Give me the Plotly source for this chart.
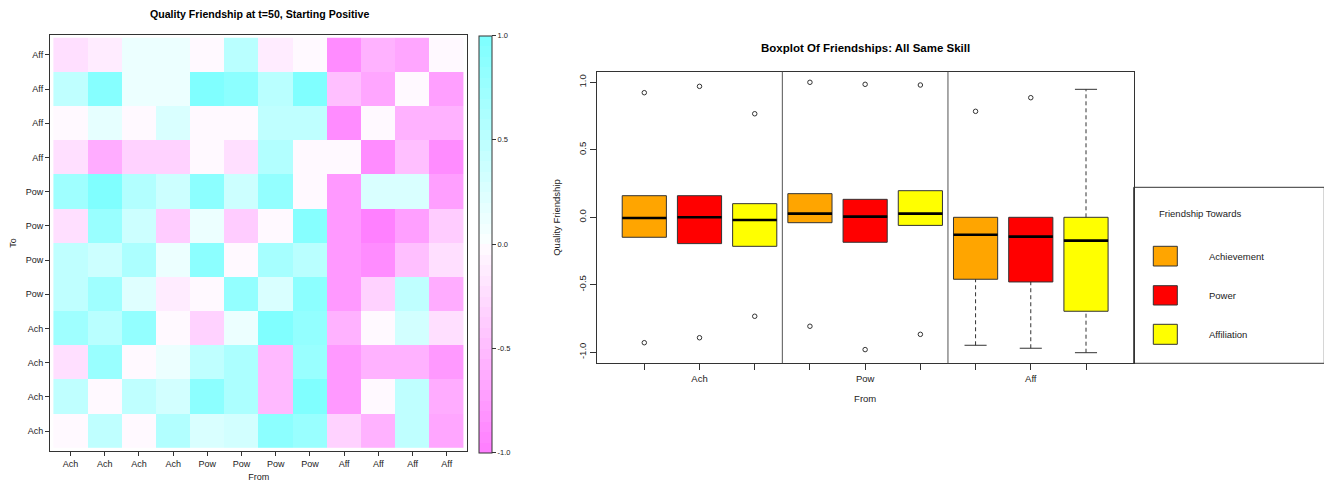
import colorsys
import plotly.graph_objects as go

# ---------------- data ----------------
heat_labels = ["Ach", "Ach", "Ach", "Ach", "Pow", "Pow", "Pow", "Pow", "Aff", "Aff", "Aff", "Aff"]
# rows listed from the top of the picture (To = Aff ... Ach), columns = From
heat_rows_top_down = [
    [-0.25, -0.13, 0.12, 0.12, -0.02, 0.50, -0.12, -0.02, -0.87, -0.57, -0.68, -0.02],
    [0.47, 0.93, 0.12, 0.12, 0.98, 0.87, 0.50, 0.98, -0.50, -0.68, -0.02, -0.72],
    [-0.02, 0.18, -0.02, 0.27, -0.02, -0.02, 0.47, 0.47, -0.87, -0.02, -0.60, -0.60],
    [-0.25, -0.62, -0.35, -0.35, -0.02, -0.25, 0.60, -0.02, -0.02, -0.90, -0.50, -0.90],
    [0.72, 0.98, 0.60, 0.37, 0.87, 0.37, 0.80, -0.02, -0.80, 0.25, 0.25, -0.72],
    [-0.25, 0.78, 0.37, -0.37, 0.12, -0.37, -0.02, 0.90, -0.80, -0.98, -0.72, -0.37],
    [0.47, 0.37, 0.62, 0.12, 0.87, -0.02, 0.68, 0.50, -0.78, -0.90, -0.50, -0.22],
    [0.47, 0.72, 0.22, -0.12, -0.02, 0.80, 0.25, 0.87, -0.80, -0.35, 0.47, -0.65],
    [0.72, 0.50, 0.80, -0.02, -0.35, 0.12, 0.98, 0.80, -0.57, -0.02, 0.35, -0.22],
    [-0.25, 0.75, -0.02, 0.12, 0.47, 0.62, -0.53, 0.75, -0.80, -0.60, -0.60, -0.80],
    [0.47, -0.02, 0.47, 0.35, 0.87, 0.62, -0.53, 0.98, -0.80, -0.02, 0.47, -0.65],
    [-0.02, 0.47, -0.02, 0.55, 0.25, 0.35, 0.87, 0.75, -0.35, -0.57, 0.47, -0.68],
]
cbar_ticks = [-1.0, -0.5, 0.0, 0.5, 1.0]
cbar_ticktext = ["-1.0", "-0.5", "0.0", "0.5", "1.0"]

box_groups = ["Ach", "Pow", "Aff"]
box_towards = ["Achievement", "Power", "Affiliation"]
box_colors = ["#FFA500", "#FF0000", "#FFFF00"]
# order: (Ach: Ach,Pow,Aff), (Pow: ...), (Aff: ...)
box_q1 = [-0.148, -0.195, -0.215, -0.040, -0.185, -0.060, -0.459, -0.479, -0.696]
box_median = [-0.005, 0.000, -0.020, 0.027, 0.005, 0.027, -0.129, -0.143, -0.173]
box_q3 = [0.160, 0.160, 0.101, 0.175, 0.133, 0.197, 0.000, 0.000, 0.000]
box_lowwhisk = [-0.148, -0.195, -0.215, -0.040, -0.185, -0.060, -0.948, -0.970, -1.003]
box_highwhisk = [0.160, 0.160, 0.101, 0.175, 0.133, 0.197, 0.000, 0.000, 0.948]
box_outliers = [
    [0.923, -0.929], [0.970, -0.892], [0.767, -0.733],
    [1.000, -0.807], [0.985, -0.980], [0.980, -0.867],
    [0.785], [0.886], [],
]
box_yticks = [-1.0, -0.5, 0.0, 0.5, 1.0]
box_yticktext = ["-1.0", "-0.5", "0.0", "0.5", "1.0"]

# ---------------- helpers ----------------
# the page body has an 8px margin, so the figure is drawn 8px in from the window corner
OFF = 8
W, H = 1332 - OFF, 483 - OFF


def px(x):
    return (x - OFF) / W


def py(y):
    return 1 - (y - OFF) / H


# reversed cm.colors(40) step colorscale
n = 40
k = n // 2
mag_s = [0.5 * (i + 1) / k for i in range(k)][::-1]      # 0.5 ... 0.025
cyan_s = [0.5 * (i + 1) / k for i in range(k)]           # 0.025 ... 0.5
cols = []
for s in mag_s:
    r, g, b = colorsys.hsv_to_rgb(10 / 12, s, 1)
    cols.append("rgb(%d,%d,%d)" % (round(r * 255), round(g * 255), round(b * 255)))
for s in cyan_s:
    r, g, b = colorsys.hsv_to_rgb(6 / 12, s, 1)
    cols.append("rgb(%d,%d,%d)" % (round(r * 255), round(g * 255), round(b * 255)))
colorscale = []
for i, c in enumerate(cols):
    colorscale.append([i / n, c])
    colorscale.append([(i + 1) / n, c])

FONT = "Liberation Sans, Arial, sans-serif"
TXT = "#222222"

fig = go.Figure()

# ---------------- heatmap ----------------
z = heat_rows_top_down[::-1]
pos = list(range(1, 13))
fig.add_trace(go.Heatmap(
    z=z, x=pos, y=pos, zmin=-1, zmax=1, colorscale=colorscale,
    xaxis="x", yaxis="y", showscale=True,
    colorbar=dict(
        x=px(479.3), xanchor="left", y=py(244), yanchor="middle",
        len=(452.3 - 35.7) / H, lenmode="fraction", thickness=13, thicknessmode="pixels",
        outlinewidth=1, outlinecolor="#333333", xpad=0, ypad=0,
        tickmode="array", tickvals=cbar_ticks, ticktext=cbar_ticktext,
        ticks="outside", ticklen=4, tickcolor="#333333",
        tickfont=dict(size=7.5, family=FONT, color=TXT),
    ),
    hoverongaps=False,
))

# ---------------- boxplot ----------------
for i in range(9):
    p = i + 1
    c = box_colors[i % 3]
    fig.add_trace(go.Box(
        x=[p], q1=[box_q1[i]], median=[box_median[i]], q3=[box_q3[i]],
        lowerfence=[box_q1[i]], upperfence=[box_q3[i]],
        width=0.8, fillcolor=c, line=dict(color="#333333", width=1),
        whiskerwidth=0, boxpoints=False, xaxis="x2", yaxis="y2", showlegend=False,
    ))
    # median (thick)
    fig.add_trace(go.Scatter(
        x=[p - 0.4, p + 0.4], y=[box_median[i], box_median[i]], mode="lines",
        line=dict(color="black", width=2.6), xaxis="x2", yaxis="y2",
        showlegend=False, hoverinfo="skip",
    ))
    # whiskers
    wx, wy, cx, cy = [], [], [], []
    if box_lowwhisk[i] < box_q1[i]:
        wx += [p, p, None]
        wy += [box_lowwhisk[i], box_q1[i], None]
        cx += [p - 0.2, p + 0.2, None]
        cy += [box_lowwhisk[i], box_lowwhisk[i], None]
    if box_highwhisk[i] > box_q3[i]:
        wx += [p, p, None]
        wy += [box_q3[i], box_highwhisk[i], None]
        cx += [p - 0.2, p + 0.2, None]
        cy += [box_highwhisk[i], box_highwhisk[i], None]
    if wx:
        fig.add_trace(go.Scatter(
            x=wx, y=wy, mode="lines", line=dict(color="#333333", width=1, dash="4px,3px"),
            xaxis="x2", yaxis="y2", showlegend=False, hoverinfo="skip",
        ))
        fig.add_trace(go.Scatter(
            x=cx, y=cy, mode="lines", line=dict(color="#333333", width=1),
            xaxis="x2", yaxis="y2", showlegend=False, hoverinfo="skip",
        ))
    if box_outliers[i]:
        fig.add_trace(go.Scatter(
            x=[p] * len(box_outliers[i]), y=box_outliers[i], mode="markers",
            marker=dict(symbol="circle-open", size=4.5, color="#333333", line=dict(width=1)),
            xaxis="x2", yaxis="y2", showlegend=False,
        ))

shapes = []
# group separators
for xv in [3.5, 6.5]:
    shapes.append(dict(type="line", xref="x2", yref="y2 domain", x0=xv, x1=xv, y0=0, y1=1,
                       line=dict(color="#555555", width=1)))
# legend box
shapes.append(dict(type="rect", xref="paper", yref="paper",
                   x0=px(1133.7), x1=px(1324.3), y0=py(363.3), y1=py(187.3),
                   line=dict(color="#333333", width=1), fillcolor="rgba(0,0,0,0)"))
key_y = [(246.3, 266.0), (285.7, 305.0), (324.3, 344.3)]
annotations = []
for (y0, y1), c, name in zip(key_y, box_colors, box_towards):
    shapes.append(dict(type="rect", xref="paper", yref="paper",
                       x0=px(1153.3), x1=px(1177.3), y0=py(y1), y1=py(y0),
                       line=dict(color="#333333", width=1), fillcolor=c))
    annotations.append(dict(text=name, xref="paper", yref="paper", x=px(1206.7), y=py((y0 + y1) / 2),
                            xanchor="left", yanchor="middle", showarrow=False,
                            font=dict(size=9.5, family=FONT, color=TXT)))
annotations.append(dict(text="Friendship Towards", xref="paper", yref="paper", x=px(1157), y=py(213.7),
                        xanchor="left", yanchor="middle", showarrow=False,
                        font=dict(size=9.5, family=FONT, color=TXT)))
# titles
annotations.append(dict(text="<b>Quality Friendship at t=50, Starting Positive</b>", xref="paper", yref="paper",
                        x=px(259), y=py(14), xanchor="center", yanchor="middle", showarrow=False,
                        font=dict(size=10.6, family=FONT, color="black")))
annotations.append(dict(text="<b>Boxplot Of Friendships: All Same Skill</b>", xref="paper", yref="paper",
                        x=px(865), y=py(48), xanchor="center", yanchor="middle", showarrow=False,
                        font=dict(size=11.5, family=FONT, color="black")))

axis_common = dict(showline=True, linecolor="#333333", linewidth=1, mirror=True, showgrid=False,
                   zeroline=False, ticks="outside", ticklen=4, tickcolor="#333333",
                   tickfont=dict(size=9, family=FONT, color=TXT))

fig.update_layout(
    width=W, height=H, margin=dict(l=0, r=0, t=0, b=0),
    paper_bgcolor="white", plot_bgcolor="white", showlegend=False,
    font=dict(family=FONT, color=TXT),
    xaxis=dict(domain=[px(50), px(467.3)], range=[0.4, 12.6], anchor="y",
               tickmode="array", tickvals=pos, ticktext=heat_labels,
               title=dict(text="From", font=dict(size=9, family=FONT, color=TXT), standoff=5),
               **axis_common),
    yaxis=dict(domain=[py(451.3), py(34.7)], range=[0.41, 12.59], anchor="x",
               tickmode="array", tickvals=pos, ticktext=heat_labels,
               title=dict(text="To", font=dict(size=9, family=FONT, color=TXT), standoff=8),
               **axis_common),
    xaxis2=dict(domain=[px(596.7), px(1133.7)], range=[0.138, 9.864], anchor="y2",
                tickmode="array", tickvals=list(range(1, 10)),
                ticktext=["", box_groups[0], "", "", box_groups[1], "", "", box_groups[2], ""],
                title=dict(text="From", font=dict(size=9.5, family=FONT, color=TXT), standoff=12),
                **{**axis_common, "ticklen": 6, "tickfont": dict(size=9.5, family=FONT, color=TXT)}),
    yaxis2=dict(domain=[py(363.3), py(71.7)], range=[-1.0815, 1.0785], anchor="x2",
                tickmode="array", tickvals=box_yticks, ticktext=box_yticktext, tickangle=-90,
                title=dict(text="Quality Friendship", font=dict(size=9.5, family=FONT, color=TXT), standoff=14),
                **{**axis_common, "ticklen": 6, "tickfont": dict(size=9.5, family=FONT, color=TXT)}),
    shapes=shapes, annotations=annotations,
)

fig.write_html("out.html")
